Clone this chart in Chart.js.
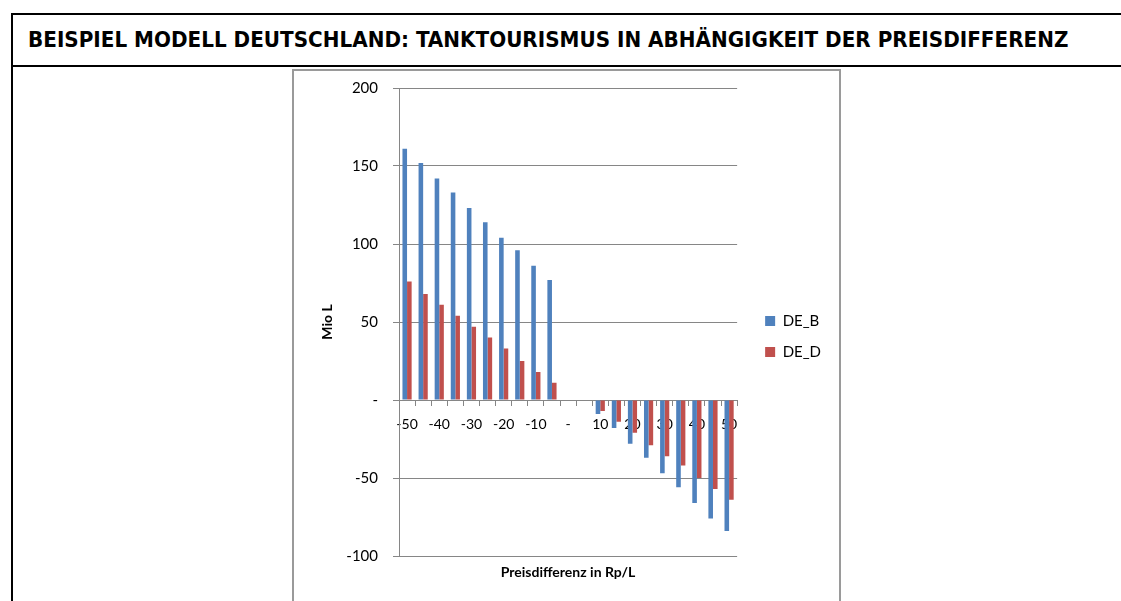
<!DOCTYPE html>
<html lang="de">
<head>
<meta charset="utf-8">
<title>Tanktourismus</title>
<script src="https://cdn.jsdelivr.net/npm/chart.js@4.4.1/dist/chart.umd.min.js"></script>
<style>
    body { margin: 0; background: #fff; }
    #rahmen {
        position: absolute; left: 11px; top: 13px; width: 1200px; height: 700px;
        border-left: 2px solid #000; border-top: 2px solid #000;
    }
    #titel {
        height: 50px; border-bottom: 2px solid #000;
        font-family: "DejaVu Sans Condensed", "DejaVu Sans", sans-serif;
        font-weight: bold; font-size: 20.5px; line-height: 50px;
        padding-left: 15px; white-space: nowrap;
    }
    #titel span { display: inline-block; transform-origin: left center; }
    #diagrammBox {
        position: absolute; left: 292px; top: 69px; width: 545px; height: 560px;
        border: 2px solid #9a9a9a;
    }
    #diagrammBox canvas { display: block; }
</style>
</head>
<body>
<div id="rahmen">
    <div id="titel"><span id="titelText">BEISPIEL MODELL DEUTSCHLAND: TANKTOURISMUS IN ABHÄNGIGKEIT DER PREISDIFFERENZ</span></div>
</div>
<div id="diagrammBox">
    <canvas id="tankChart" width="545" height="514"></canvas>
</div>
<script>
// Kategorien (Preisdifferenz in Rp/L)
const kategorien = ['-50', '-45', '-40', '-35', '-30', '-25', '-20', '-15', '-10', '-5', '-',
                    '5', '10', '15', '20', '25', '30', '35', '40', '45', '50'];

// Werte in Mio L
const werteDE_B = [161, 152, 142, 133, 123, 114, 104, 96, 86, 77, 0,
                   0, -9, -18, -28, -37, -47, -56, -66, -76, -84];
const werteDE_D = [76, 68, 61, 54, 47, 40, 33, 25, 18, 11, 0,
                   0, -7, -14, -21, -29, -36, -42, -50, -57, -64];

// Achse Mio L
const yMin = -100;
const yMax = 200;
const ySchritt = 50;

// Titel auf die Breite der Vorlage bringen
const titelSpan = document.getElementById('titelText');
titelSpan.style.transform = 'scaleX(' + (1040 / titelSpan.offsetWidth) + ')';

const grau = '#868686';
const schrift = 'Lato, "Open Sans", sans-serif';

const ctx = document.getElementById('tankChart').getContext('2d');
new Chart(ctx, {
    type: 'bar',
    data: {
        labels: kategorien,
        datasets: [
            { label: 'DE_B', data: werteDE_B, backgroundColor: '#4F81BD', borderWidth: 0 },
            { label: 'DE_D', data: werteDE_D, backgroundColor: '#C0504D', borderWidth: 0 }
        ]
    },
    options: {
        responsive: false,
        animation: false,
        devicePixelRatio: 1,
        categoryPercentage: 0.57,
        barPercentage: 1,
        layout: { padding: { top: 17, left: 0, right: 8, bottom: 0 } },
        plugins: {
            title: { display: false },
            tooltip: { enabled: false },
            legend: {
                position: 'right',
                labels: {
                    boxWidth: 10, boxHeight: 10, padding: 16,
                    color: '#000', font: { family: schrift, size: 15 }
                }
            }
        },
        scales: {
            x: {
                position: { y: 0 },
                offset: true,
                grid: { display: true, drawOnChartArea: false, offset: true, tickLength: 5, color: grau },
                border: { color: grau, width: 1 },
                ticks: {
                    autoSkip: false, maxRotation: 0, padding: 11,
                    color: '#000', font: { family: schrift, size: 14 },
                    // nur jede zweite Beschriftung wie in der Vorlage
                    callback: (wert, i) => (i % 2 === 0 ? kategorien[i] : '')
                }
            },
            x2: {
                type: 'category',
                position: 'bottom',
                labels: kategorien,
                grid: { display: false },
                border: { display: false },
                ticks: { display: false },
                title: {
                    display: true, text: 'Preisdifferenz in Rp/L', color: '#000',
                    font: { family: schrift, size: 14, weight: 'bold' },
                    padding: { top: 0, bottom: 4 }
                },
                afterFit: (s) => { s.height = 29; }
            },
            y: {
                min: yMin, max: yMax,
                ticks: {
                    stepSize: ySchritt, padding: 15, color: '#000',
                    font: { family: schrift, size: 15 },
                    callback: (v) => (v === 0 ? '-' : v)
                },
                grid: { color: grau, tickLength: 6 },
                border: { color: grau, width: 1 },
                title: {
                    display: true, text: 'Mio L', color: '#000',
                    font: { family: schrift, size: 14, weight: 'bold' },
                    padding: { top: 25, bottom: 0 }
                },
                afterFit: (s) => {
                    s.width = 105;
                    // Beschriftungsüberstand nicht zusätzlich einrechnen
                    s.paddingTop = 0;
                    s.paddingBottom = 0;
                }
            },
            // leere Achse als Abstand zur Legende
            abstand: {
                type: 'linear',
                position: 'right',
                grid: { display: false },
                border: { display: false },
                ticks: { display: false },
                afterFit: (s) => { s.width = 12; }
            }
        }
    }
});
</script>
</body>
</html>
